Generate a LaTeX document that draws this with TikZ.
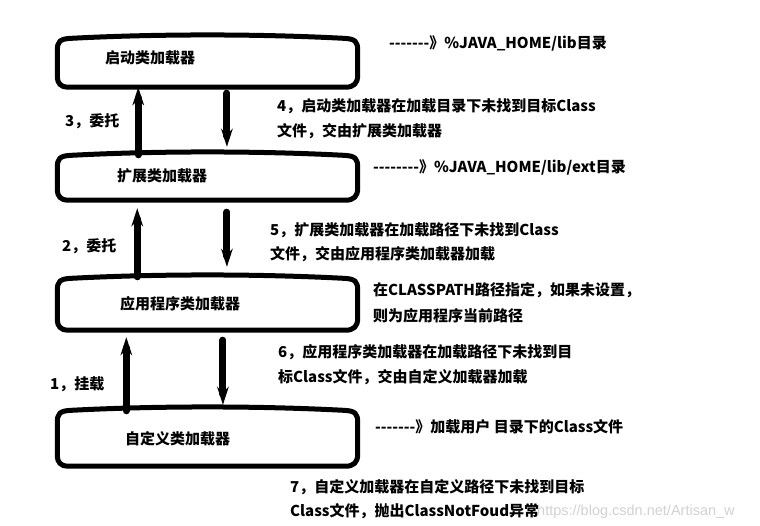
\documentclass[tikz,border=0pt]{standalone}
\usepackage{fontspec}
\newfontfamily\cjk{Noto Sans CJK SC}
\newfontfamily\urlfont{Liberation Sans}
\usetikzlibrary{arrows.meta}

\tikzset{
  loader/.style={minimum width=300bp, inner sep=0, draw=none},
  loaderline/.style={line width=5bp, line join=round},
  note/.style={anchor=base west, inner sep=0, font=\cjk\fontsize{15bp}{25bp}\selectfont\bfseries},
  delegate/.style={line width=7bp, line cap=round, -{Stealth[length=18bp,width=11.5bp]}},
}

% rounded box with a slightly bulging top edge
\newcommand\loaderoutline[1]{%
  \draw[loaderline] ([yshift=10]#1.south west) -- ([yshift=-8]#1.north west)
    .. controls ([yshift=1]#1.north west) and ([xshift=2,yshift=4]#1.north west) .. ([xshift=14,yshift=4.5]#1.north west)
    .. controls ([xshift=100,yshift=9]#1.north west) and ([xshift=-100,yshift=9]#1.north east) .. ([xshift=-14,yshift=4.5]#1.north east)
    .. controls ([xshift=-2,yshift=4]#1.north east) and ([yshift=1]#1.north east) .. ([yshift=-8]#1.north east)
    -- ([yshift=12]#1.south east)
    .. controls ([yshift=4]#1.south east) and ([xshift=-4]#1.south east) .. ([xshift=-12]#1.south east)
    -- ([xshift=10]#1.south west)
    .. controls ([xshift=4]#1.south west) and ([yshift=4]#1.south west) .. ([yshift=10]#1.south west)
    -- cycle;}

\begin{document}
\begin{tikzpicture}[x=1bp,y=1bp]
  \fill[white] (0,0) rectangle (760,-526);
  \useasboundingbox (0,0) rectangle (760,-526);

  % the four loaders
  \node[loader, minimum height=44bp] (boot) at (207.5,-65) {};
  \node[loader, minimum height=40bp] (ext) at (207.5,-180) {};
  \node[loader, minimum height=47bp] (app) at (207.5,-306.5) {};
  \node[loader, minimum height=51bp] (custom) at (207.5,-440.5) {};
  \loaderoutline{boot}
  \loaderoutline{ext}
  \loaderoutline{app}
  \loaderoutline{custom}

  \node[note] (boottext) at (105,-64) {启动类加载器};
  \node[note] (exttext) at (117,-182) {扩展类加载器};
  \node[note] (apptext) at (120,-309) {应用程序类加载器};
  \node[note] (customtext) at (125,-444) {自定义类加载器};

  % delegation up, fallback down
  \draw[delegate] ([xshift=-69.5,yshift=5]ext.north) -- ([xshift=-69.5]boot.south);
  \draw[delegate] ([xshift=19.5,yshift=-6]boot.south) -- ([xshift=19.5,yshift=13]ext.north);
  \draw[delegate] ([xshift=-70.5,yshift=6]app.north) -- ([xshift=-70.5,yshift=-8]ext.south);
  \draw[delegate] ([xshift=19.5,yshift=-12]ext.south) -- ([xshift=19.5,yshift=16]app.north);
  \draw[delegate] ([xshift=-81.5,yshift=4]custom.north) -- ([xshift=-81.5,yshift=-7]app.south);
  \draw[delegate] ([xshift=15.5,yshift=-10]app.south) -- ([xshift=15.5,yshift=10]custom.north);

  \node[note] (step3) at (65,-127) {3，委托};
  \node[note] (step2) at (62,-252) {2，委托};
  \node[note] (step1) at (50,-389) {1，挂载};

  % right hand notes
  \node[note] (bootpath) at (389,-49) {-------》\%JAVA\_HOME/lib目录};
  \node[note] (step4a) at (277,-112) {4，启动类加载器在加载目录下未找到目标Class};
  \node[note] (step4b) at (277,-137) {文件，交由扩展类加载器};
  \node[note] (extpath) at (373,-173) {--------》\%JAVA\_HOME/lib/ext目录};
  \node[note] (step5a) at (270,-236) {5，扩展类加载器在加载路径下未找到Class};
  \node[note] (step5b) at (270,-260) {文件，交由应用程序类加载器加载};
  \node[note] (apppatha) at (373,-296) {在CLASSPATH路径指定，如果未设置，};
  \node[note] (apppathb) at (373,-321) {则为应用程序当前路径};
  \node[note] (step6a) at (278,-357) {6，应用程序类加载器在加载路径下未找到目};
  \node[note] (step6b) at (278,-382) {标Class文件，交由自定义加载器加载};
  \node[note] (custompath) at (375,-432) {-------》加载用户 目录下的Class文件};
  \node[note] (step7a) at (290,-492) {7，自定义加载器在自定义路径下未找到目标};
  \node[note] (step7b) at (290,-516) {Class文件，抛出ClassNotFoud异常};
  \node[anchor=base west, inner sep=0, text=gray!35, font=\urlfont\fontsize{14.5bp}{16bp}\selectfont]
    (mark) at (537,-515) {https://blog.csdn.net/Artisan\_w};
\end{tikzpicture}
\end{document}
